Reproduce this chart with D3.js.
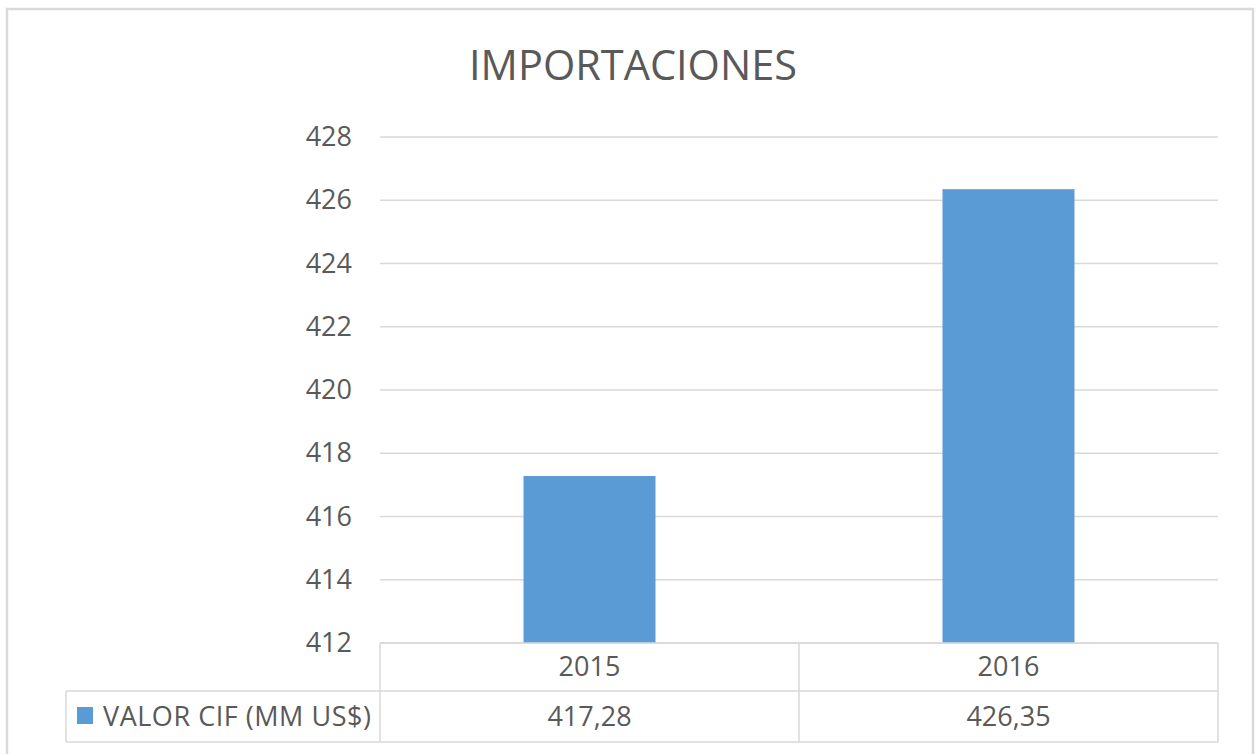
<!DOCTYPE html>
<html>
<head>
<meta charset="utf-8">
<script src="https://cdn.jsdelivr.net/npm/d3@7"></script>
<style>
  body { margin: 0; background: #fff; }
  text { font-family: "Open Sans", sans-serif; fill: #595959; }
</style>
</head>
<body>
<svg id="chart" width="1257" height="754"></svg>
<script>
const years = ['2015', '2016'];
const values = [417.28, 426.35];
const valueLabels = ['417,28', '426,35'];
const yTicks = [412, 414, 416, 418, 420, 422, 424, 426, 428];
const seriesName = 'VALOR CIF (MM US$)';

const svg = d3.select('#chart');

// outer chart frame
svg.append('rect')
  .attr('x', 7).attr('y', 9)
  .attr('width', 1246).attr('height', 770)
  .attr('fill', '#fff')
  .attr('stroke', '#d9d9d9')
  .attr('stroke-width', 2.5);

svg.append('text')
  .attr('x', 633).attr('y', 80)
  .attr('text-anchor', 'middle')
  .style('font-size', '41.5px')
  .text('IMPORTACIONES');

const plot = { left: 380, right: 1218, top: 137, bottom: 643 };

const x = d3.scaleBand()
  .domain(years)
  .range([plot.left, plot.right])
  .paddingInner(0.685)
  .paddingOuter(0.3425);

const y = d3.scaleLinear()
  .domain([412, 428])
  .range([plot.bottom, plot.top]);

// gridlines
svg.append('g')
  .selectAll('line')
  .data(yTicks)
  .enter().append('line')
  .attr('x1', plot.left).attr('x2', plot.right)
  .attr('y1', d => y(d)).attr('y2', d => y(d))
  .attr('stroke', '#d9d9d9')
  .attr('stroke-width', 1.5);

// y axis labels
const yAxis = svg.append('g')
  .attr('transform', 'translate(352,0)')
  .call(d3.axisLeft(y).tickValues(yTicks).tickSize(0).tickPadding(0));
yAxis.select('.domain').remove();
yAxis.selectAll('text')
  .attr('fill', '#595959')
  .style('font-size', '27px')
  .style('font-family', '"Open Sans", sans-serif');

// bars
svg.append('g')
  .selectAll('rect')
  .data(values)
  .enter().append('rect')
  .attr('x', (d, i) => x(years[i]))
  .attr('width', x.bandwidth())
  .attr('y', d => y(d))
  .attr('height', d => y(412) - y(d))
  .attr('fill', '#5b9bd5');

// data table
const row1 = 643, row2 = 691, row3 = 742, legendLeft = 66;
const colEdges = [plot.left].concat(years.map(d => x(d) + x.bandwidth() / 2 + x.step() / 2));
const grid = svg.append('g')
  .attr('stroke', '#d9d9d9')
  .attr('stroke-width', 1.5);

grid.append('line').attr('x1', plot.left).attr('x2', plot.right).attr('y1', row1).attr('y2', row1);
grid.append('line').attr('x1', legendLeft).attr('x2', plot.right).attr('y1', row2).attr('y2', row2);
grid.append('line').attr('x1', legendLeft).attr('x2', plot.right).attr('y1', row3).attr('y2', row3);
grid.append('line').attr('x1', legendLeft).attr('x2', legendLeft).attr('y1', row2).attr('y2', row3);
grid.selectAll('.col')
  .data(colEdges)
  .enter().append('line')
  .attr('class', 'col')
  .attr('x1', d => d).attr('x2', d => d)
  .attr('y1', row1).attr('y2', row3);

svg.append('g')
  .selectAll('text')
  .data(years)
  .enter().append('text')
  .attr('x', d => x(d) + x.bandwidth() / 2)
  .attr('y', (row1 + row2) / 2)
  .attr('dy', '0.35em')
  .attr('text-anchor', 'middle')
  .style('font-size', '27px')
  .text(d => d);

svg.append('g')
  .selectAll('text')
  .data(valueLabels)
  .enter().append('text')
  .attr('x', (d, i) => x(years[i]) + x.bandwidth() / 2)
  .attr('y', (row2 + row3) / 2)
  .attr('dy', '0.35em')
  .attr('text-anchor', 'middle')
  .style('font-size', '27px')
  .text(d => d);

// legend key
svg.append('rect')
  .attr('x', 77).attr('y', 707)
  .attr('width', 16).attr('height', 17)
  .attr('fill', '#5b9bd5');

svg.append('text')
  .attr('x', 103)
  .attr('y', (row2 + row3) / 2)
  .attr('dy', '0.35em')
  .attr('textLength', 268)
  .attr('lengthAdjust', 'spacing')
  .style('font-size', '27px')
  .text(seriesName);
</script>
</body>
</html>
